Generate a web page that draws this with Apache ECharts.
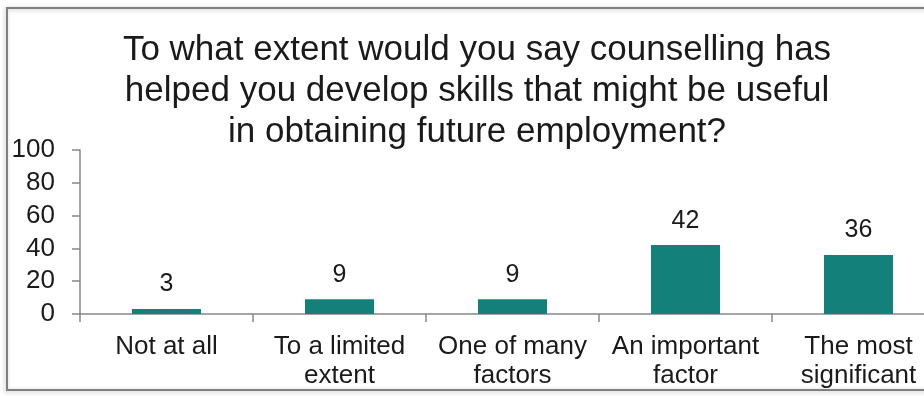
<!DOCTYPE html>
<html>
<head>
<meta charset="utf-8">
<script src="https://cdn.jsdelivr.net/npm/echarts@6/dist/echarts.min.js"></script>
<style>
  html, body { margin: 0; padding: 0; background: #fff; }
  #chart { width: 924px; height: 396px; }
</style>
</head>
<body>
<div id="chart"></div>
<script>
// Survey responses (percent of respondents)
const titleLines = [
  'To what extent would you say counselling has',
  'helped you develop skills that might be useful',
  'in obtaining future employment?'
];
const categories = [
  'Not at all\n',
  'To a limited\nextent',
  'One of many\nfactors',
  'An important\nfactor',
  'The most\nsignificant'
];
const values = [3, 9, 9, 42, 36];
const yTicks = { min: 0, max: 100, interval: 20 };

const chart = echarts.init(document.getElementById('chart'), null, { renderer: 'canvas' });
const font = 'Liberation Sans, Arial, sans-serif';
const textColor = '#1a1a1a';

chart.setOption({
  animation: false,
  backgroundColor: '#ffffff',
  graphic: [{
    type: 'rect',
    shape: { x: 7, y: 8, width: 1000, height: 382 },
    style: {
      fill: 'none',
      stroke: '#808080',
      lineWidth: 2,
      shadowBlur: 4,
      shadowColor: 'rgba(0,0,0,0.25)',
      shadowOffsetX: -1,
      shadowOffsetY: 1
    },
    z: 0
  }],
  title: {
    text: titleLines.join('\n'),
    left: 477,
    top: 30,
    padding: 0,
    textAlign: 'center',
    textStyle: {
      fontFamily: font,
      fontSize: 35,
      lineHeight: 41,
      fontWeight: 'normal',
      color: textColor
    }
  },
  grid: {
    left: 80, top: 150, width: 865, height: 164,
    containLabel: false,
    outerBoundsMode: 'none'
  },
  xAxis: {
    type: 'category',
    data: categories,
    boundaryGap: true,
    axisLine: { lineStyle: { color: '#888888', width: 1.5 } },
    axisTick: { show: true, length: 8, lineStyle: { color: '#888888', width: 1.5 } },
    axisLabel: {
      interval: 0,
      margin: 18,
      fontFamily: font,
      fontSize: 26,
      lineHeight: 29,
      color: textColor,
      verticalAlign: 'top'
    }
  },
  yAxis: {
    type: 'value',
    min: yTicks.min,
    max: yTicks.max,
    interval: yTicks.interval,
    splitLine: { show: false },
    axisLine: { show: true, lineStyle: { color: '#888888', width: 1.5 } },
    axisTick: { show: true, length: 8, lineStyle: { color: '#888888', width: 1.5 } },
    axisLabel: {
      margin: 25,
      fontFamily: font,
      fontSize: 26,
      color: textColor
    }
  },
  series: [{
    type: 'bar',
    data: values,
    barWidth: 69,
    itemStyle: { color: '#14807a' },
    label: {
      show: true,
      position: 'top',
      distance: 12,
      fontFamily: font,
      fontSize: 25,
      color: textColor
    }
  }]
});
</script>
</body>
</html>
